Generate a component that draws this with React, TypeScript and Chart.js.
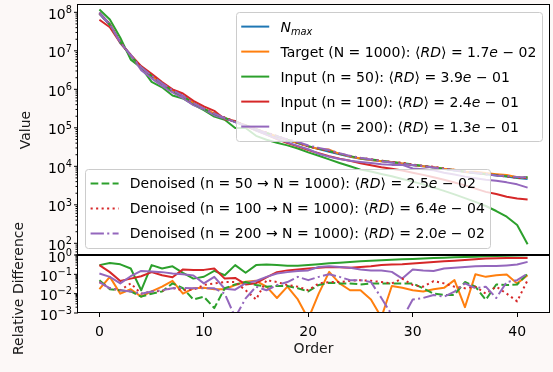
import React, { useEffect, useRef } from "react";
import { Chart, registerables } from "chart.js";

Chart.register(...registerables);

// ---------------- data ----------------
const ORDERS = [
  0, 1, 2, 3, 4, 5, 6, 7, 8, 9, 10, 11, 12, 13, 14, 15, 16, 17, 18, 19, 20,
  21, 22, 23, 24, 25, 26, 27, 28, 29, 30, 31, 32, 33, 34, 35, 36, 37, 38, 39, 40, 41,
];

const N_MAX = [
  9.1e7, 4.7e7, 1.66e7, 7.4e6, 3.7e6, 2.24e6, 1.41e6,
  9.3e5, 6.6e5, 4.3e5, 3.1e5, 2.3e5, 1.78e5, 1.41e5,
  1.12e5, 8.9e4, 7.2e4, 5.9e4, 4.8e4, 4.0e4, 3.3e4,
  2.8e4, 2.4e4, 2.04e4, 1.78e4, 1.58e4, 1.45e4, 1.35e4,
  1.26e4, 1.17e4, 1.07e4, 1.0e4, 9.3e3, 8.5e3, 7.8e3,
  7.1e3, 6.6e3, 6.2e3, 5.75e3, 5.4e3, 5.0e3, 4.7e3,
];
const TARGET = [
  9.25e7, 5.05e7, 1.68e7, 7.5e6, 3.72e6, 2.27e6, 1.44e6,
  9.7e5, 6.55e5, 4.38e5, 3.16e5, 2.34e5, 1.81e5, 1.45e5,
  1.17e5, 9.3e4, 7.36e4, 5.93e4, 4.91e4, 4.02e4, 3.3e4,
  2.83e4, 2.72e4, 2.11e4, 1.81e4, 1.6e4, 1.46e4, 1.35e4,
  1.29e4, 1.19e4, 1.08e4, 1.01e4, 9.45e3, 8.67e3, 8.2e3,
  7.11e3, 7.26e3, 6.66e3, 6.27e3, 5.93e3, 5.17e3, 5.12e3,
];
const INPUT_50 = [
  1.18e8, 6.5e7, 2.2e7, 5.9e6, 3.65e6, 1.57e6, 1.13e6,
  6.9e5, 5.8e5, 4.0e5, 2.87e5, 1.96e5, 1.62e5, 9.9e4,
  9.9e4, 6.2e4, 4.9e4, 4.1e4, 3.5e4, 2.9e4, 2.3e4,
  1.88e4, 1.51e4, 1.22e4, 1.0e4, 8.2e3, 7.3e3, 6.3e3,
  5.5e3, 4.7e3, 4.0e3, 3.4e3, 2.8e3, 2.3e3, 1.87e3,
  1.49e3, 1.19e3, 930, 690, 490, 300, 94,
];
const INPUT_100 = [
  6.4e7, 4.1e7, 1.59e7, 7.8e6, 4.0e6, 2.53e6, 1.54e6,
  1.0e6, 7.8e5, 5.0e5, 3.6e5, 2.76e5, 1.67e5, 1.5e5,
  1.09e5, 8.6e4, 6.7e4, 5.1e4, 4.0e4, 3.3e4, 2.64e4,
  2.18e4, 1.82e4, 1.57e4, 1.39e4, 1.2e4, 1.07e4, 9.5e3,
  8.6e3, 7.8e3, 6.8e3, 6.0e3, 5.2e3, 4.5e3, 3.8e3,
  3.2e3, 2.64e3, 2.17e3, 1.9e3, 1.62e3, 1.45e3, 1.38e3,
];
const INPUT_200 = [
  1.0e8, 5.0e7, 1.6e7, 8.0e6, 3.15e6, 1.93e6, 1.23e6,
  8.3e5, 5.9e5, 3.9e5, 3.0e5, 2.13e5, 1.75e5, 1.43e5,
  1.16e5, 8.5e4, 6.7e4, 5.25e4, 4.2e4, 3.4e4, 2.77e4,
  2.13e4, 1.78e4, 1.55e4, 1.39e4, 1.3e4, 1.22e4, 1.13e4,
  1.09e4, 1.1e4, 8.8e3, 8.4e3, 7.9e3, 6.8e3, 6.1e3,
  5.4e3, 4.9e3, 4.5e3, 4.2e3, 3.83e3, 3.4e3, 2.8e3,
];
const DENOISED_50 = [
  9.55e7, 4.78e7, 1.68e7, 7.3e6, 3.73e6, 2.22e6, 1.43e6,
  9.0e5, 6.72e5, 4.32e5, 3.12e5, 2.3e5, 1.81e5, 1.45e5,
  1.16e5, 9.15e4, 7.37e4, 6.05e4, 4.92e4, 4.08e4, 3.34e4,
  2.88e4, 2.49e4, 2.11e4, 1.84e4, 1.63e4, 1.5e4, 1.4e4,
  1.3e4, 1.21e4, 1.11e4, 1.02e4, 9.4e3, 8.57e3, 7.87e3,
  7.38e3, 6.75e3, 6.23e3, 5.92e3, 5.55e3, 5.15e3, 5.2e3,
];
const DENOISED_100 = [
  9.46e7, 4.79e7, 1.68e7, 7.65e6, 3.74e6, 2.27e6, 1.43e6,
  9.49e5, 6.7e5, 4.37e5, 3.19e5, 2.38e5, 1.85e5, 1.47e5,
  1.14e5, 8.94e4, 7.56e4, 6.14e4, 4.93e4, 4.09e4, 3.35e4,
  2.9e4, 2.5e4, 2.12e4, 1.86e4, 1.66e4, 1.52e4, 1.4e4,
  1.3e4, 1.24e4, 1.1e4, 1.02e4, 9.72e3, 8.79e3, 7.98e3,
  7.23e3, 6.75e3, 6.26e3, 5.88e3, 5.45e3, 5.02e3, 4.94e3,
];
const DENOISED_200 = [
  9.46e7, 4.79e7, 1.69e7, 7.5e6, 3.74e6, 2.27e6, 1.43e6,
  9.48e5, 6.73e5, 4.38e5, 3.16e5, 2.34e5, 1.8e5, 1.41e5,
  1.13e5, 9.1e4, 7.31e4, 6.07e4, 4.99e4, 4.3e4, 3.47e4,
  3.01e4, 2.64e4, 2.19e4, 1.87e4, 1.66e4, 1.51e4, 1.36e4,
  1.26e4, 1.17e4, 1.08e4, 1.01e4, 9.38e3, 8.56e3, 7.9e3,
  7.34e3, 6.73e3, 6.34e3, 5.78e3, 5.62e3, 5.25e3, 5.22e3,
];

// relative differences (bottom panel)
const RD_TARGET = [
  0.017, 0.074, 0.01, 0.017, 0.007, 0.013, 0.023,
  0.046, 0.01, 0.019, 0.02, 0.017, 0.017, 0.028,
  0.041, 0.046, 0.023, 0.006, 0.023, 0.005, 0.0005,
  0.01, 0.134, 0.034, 0.015, 0.015, 0.005, 0.0006,
  0.025, 0.02, 0.015, 0.013, 0.017, 0.02, 0.05,
  0.002, 0.1, 0.074, 0.09, 0.098, 0.034, 0.09,
];
const RD_INPUT_50 = [
  0.3, 0.39, 0.33, 0.2, 0.015, 0.3, 0.2,
  0.26, 0.12, 0.06, 0.075, 0.15, 0.09, 0.3,
  0.12, 0.3, 0.32, 0.3, 0.28, 0.28, 0.3,
  0.33, 0.37, 0.4, 0.44, 0.48, 0.5, 0.53,
  0.56, 0.6, 0.63, 0.66, 0.7, 0.73, 0.76,
  0.79, 0.82, 0.85, 0.88, 0.91, 0.94, 0.98,
];
const RD_INPUT_100 = [
  0.3, 0.13, 0.045, 0.06, 0.08, 0.13, 0.09,
  0.07, 0.18, 0.17, 0.17, 0.2, 0.06, 0.065,
  0.03, 0.035, 0.07, 0.13, 0.16, 0.18, 0.2,
  0.22, 0.24, 0.23, 0.22, 0.24, 0.26, 0.3,
  0.32, 0.33, 0.36, 0.4, 0.44, 0.47, 0.51,
  0.55, 0.6, 0.65, 0.67, 0.7, 0.71, 0.71,
];
const RD_INPUT_200 = [
  0.11, 0.074, 0.034, 0.08, 0.15, 0.14, 0.13,
  0.11, 0.1, 0.087, 0.034, 0.074, 0.018, 0.016,
  0.035, 0.045, 0.074, 0.11, 0.13, 0.15, 0.16,
  0.24, 0.26, 0.24, 0.22, 0.18, 0.16, 0.16,
  0.134, 0.06, 0.18, 0.16, 0.15, 0.2, 0.22,
  0.24, 0.26, 0.27, 0.27, 0.29, 0.32, 0.44,
];
const RD_DENOISED_50 = [
  0.05, 0.017, 0.015, 0.013, 0.007, 0.01, 0.013,
  0.034, 0.019, 0.005, 0.007, 0.0018, 0.019, 0.03,
  0.04, 0.028, 0.023, 0.025, 0.025, 0.019, 0.013,
  0.028, 0.037, 0.034, 0.034, 0.03, 0.034, 0.034,
  0.034, 0.034, 0.034, 0.019, 0.01, 0.0086, 0.0086,
  0.04, 0.023, 0.0048, 0.03, 0.028, 0.03, 0.11,
];
const RD_DENOISED_100 = [
  0.04, 0.019, 0.015, 0.034, 0.01, 0.013, 0.014,
  0.02, 0.015, 0.016, 0.028, 0.034, 0.04, 0.04,
  0.015, 0.005, 0.05, 0.04, 0.028, 0.023, 0.015,
  0.034, 0.04, 0.04, 0.046, 0.05, 0.046, 0.04,
  0.034, 0.06, 0.028, 0.023, 0.045, 0.034, 0.023,
  0.019, 0.023, 0.01, 0.023, 0.01, 0.004, 0.05,
];
const RD_DENOISED_200 = [
  0.04, 0.019, 0.015, 0.013, 0.01, 0.013, 0.015,
  0.019, 0.02, 0.019, 0.019, 0.019, 0.01, 0.0006,
  0.0057, 0.023, 0.015, 0.028, 0.04, 0.074, 0.05,
  0.074, 0.1, 0.074, 0.05, 0.05, 0.04, 0.006,
  0.0008, 0.0005, 0.005, 0.006, 0.0086, 0.007, 0.0127,
  0.034, 0.019, 0.023, 0.006, 0.04, 0.05, 0.11,
];

const LABEL_NMAX = "$N_{max}$";
const LABEL_TARGET = "Target (N = 1000): ⟨$RD$⟩ = 1.7$e$ − 02";
const LABEL_IN50 = "Input (n = 50): ⟨$RD$⟩ = 3.9$e$ − 01";
const LABEL_IN100 = "Input (n = 100): ⟨$RD$⟩ = 2.4$e$ − 01";
const LABEL_IN200 = "Input (n = 200): ⟨$RD$⟩ = 1.3$e$ − 01";
const LABEL_DN50 = "Denoised (n = 50 → N = 1000): ⟨$RD$⟩ = 2.5$e$ − 02";
const LABEL_DN100 = "Denoised (n = 100 → N = 1000): ⟨$RD$⟩ = 6.4$e$ − 04";
const LABEL_DN200 = "Denoised (n = 200 → N = 1000): ⟨$RD$⟩ = 2.0$e$ − 02";

const TOP_TICKS = [1e2, 1e3, 1e4, 1e5, 1e6, 1e7, 1e8];
const TOP_EXPS = ["2", "3", "4", "5", "6", "7", "8"];
const BOT_TICKS = [1e-3, 1e-2, 1e-1, 1];
const BOT_EXPS = ["−3", "−2", "−1", "0"];
const X_TICKS = [0, 10, 20, 30, 40];

const X_MIN = -2.05;
const X_MAX = 43.05;
const TOP_Y_MIN = 49.7;
const TOP_Y_MAX = 1.55e8;
const BOT_Y_MIN = 1e-3;
const BOT_Y_MAX = 1;

// ---------------- styles ----------------
const BG = "#fcf8f7";
const FS = 14;
const FONT = '"DejaVu Sans", sans-serif';
const LW = 2.0;
const BLUE = "#1f77b4";
const ORANGE = "#ff7f0e";
const GREEN = "#2ca02c";
const RED = "#d62728";
const PURPLE = "#9467bd";
const SOLID: number[] = [];
const DASHED = [7.7, 3.3];
const DOTTED = [2.1, 3.4];
const DASHDOT = [13.3, 3.3, 2.1, 3.3];

type Style = { color: string; dash: number[] };
type Seg = { t: string; it?: boolean; sub?: boolean };

function parseLabel(s: string): Seg[] {
  const out: Seg[] = [];
  s.split("$").forEach((part, i) => {
    if (!part) return;
    const it = i % 2 === 1;
    if (it) {
      const m = part.match(/^(.*?)_\{(.*)\}$/);
      if (m) {
        out.push({ t: m[1], it: true });
        out.push({ t: m[2], it: true, sub: true });
        return;
      }
    }
    out.push({ t: part, it });
  });
  return out;
}

function segFont(s: Seg) {
  const size = s.sub ? FS * 0.7 : FS;
  return `${s.it ? "italic " : ""}${size}px ${FONT}`;
}
function measureSegs(ctx: CanvasRenderingContext2D, segs: Seg[]) {
  let w = 0;
  for (const s of segs) {
    ctx.font = segFont(s);
    w += ctx.measureText(s.t).width;
  }
  return w;
}
function drawSegs(ctx: CanvasRenderingContext2D, segs: Seg[], x: number, baseline: number) {
  ctx.textAlign = "left";
  ctx.textBaseline = "alphabetic";
  ctx.fillStyle = "#000";
  for (const s of segs) {
    ctx.font = segFont(s);
    ctx.fillText(s.t, x, baseline + (s.sub ? FS * 0.22 : 0));
    x += ctx.measureText(s.t).width;
  }
}

type Entry = { segs: Seg[]; style: Style };

function drawLegend(chart: any, entries: Entry[], anchor: "ur" | "ll") {
  const ctx: CanvasRenderingContext2D = chart.ctx;
  const a = chart.chartArea;
  const pad = 0.4 * FS;
  const handle = 2 * FS;
  const htp = 0.8 * FS;
  const rowH = 18;
  const spacing = 0.5 * FS;
  const inset = 0.5 * FS;
  ctx.save();
  const maxW = Math.max(...entries.map((e) => measureSegs(ctx, e.segs)));
  const w = pad + handle + htp + maxW + pad;
  const h = 2 * pad + entries.length * rowH + (entries.length - 1) * spacing;
  let x: number, y: number;
  if (anchor === "ur") {
    x = a.right - inset - w;
    y = a.top + inset;
  } else {
    x = a.left + inset;
    y = a.bottom - inset - h;
  }
  const rx = Math.round(x) + 0.5;
  const ry = Math.round(y) + 0.5;
  ctx.beginPath();
  (ctx as any).roundRect(rx, ry, Math.round(w), Math.round(h), 3);
  ctx.fillStyle = "rgba(255,255,255,0.8)";
  ctx.fill();
  ctx.strokeStyle = "#cccccc";
  ctx.lineWidth = 1;
  ctx.stroke();
  entries.forEach((e, k) => {
    const cy = y + pad + rowH / 2 + k * (rowH + spacing);
    ctx.beginPath();
    ctx.setLineDash(e.style.dash);
    ctx.strokeStyle = e.style.color;
    ctx.lineWidth = LW;
    ctx.lineCap = "butt";
    ctx.moveTo(x + pad, cy);
    ctx.lineTo(x + pad + handle, cy);
    ctx.stroke();
    ctx.setLineDash([]);
    drawSegs(ctx, e.segs, x + pad + handle + htp, cy + 5);
  });
  ctx.restore();
}

function drawLogYAxis(chart: any, ticks: number[], exps: string[]) {
  const ctx: CanvasRenderingContext2D = chart.ctx;
  const a = chart.chartArea;
  const s = chart.scales.y;
  ctx.save();
  ctx.strokeStyle = "#000";
  ctx.lineWidth = 1;
  const lo = Math.floor(Math.log10(s.min));
  const hi = Math.ceil(Math.log10(s.max));
  for (let d = lo; d <= hi; d++) {
    for (let k = 1; k <= 9; k++) {
      const v = k * Math.pow(10, d);
      if (v < s.min * 0.9999 || v > s.max * 1.0001) continue;
      const py = s.getPixelForValue(v);
      const len = k === 1 ? 4 : 2.5;
      ctx.beginPath();
      ctx.moveTo(a.left - len, py);
      ctx.lineTo(a.left, py);
      ctx.stroke();
    }
  }
  ctx.fillStyle = "#000";
  ctx.textAlign = "left";
  ctx.textBaseline = "alphabetic";
  ticks.forEach((v, i) => {
    const py = s.getPixelForValue(v);
    ctx.font = `${FS * 0.7}px ${FONT}`;
    const ew = ctx.measureText(exps[i]).width;
    ctx.font = `${FS}px ${FONT}`;
    const bw = ctx.measureText("10").width;
    const right = a.left - 6;
    ctx.fillText("10", right - ew - bw, py + 6.5);
    ctx.font = `${FS * 0.7}px ${FONT}`;
    ctx.fillText(exps[i], right - ew, py + 0.8);
  });
  ctx.restore();
}

function fillArea(chart: any) {
  const ctx: CanvasRenderingContext2D = chart.ctx;
  const a = chart.chartArea;
  ctx.save();
  ctx.fillStyle = "#ffffff";
  ctx.fillRect(a.left, a.top, a.right - a.left, a.bottom - a.top);
  ctx.restore();
}

function drawSpines(chart: any, topWidth: number) {
  const ctx: CanvasRenderingContext2D = chart.ctx;
  const a = chart.chartArea;
  ctx.save();
  ctx.strokeStyle = "#000";
  ctx.lineWidth = 1;
  ctx.beginPath();
  ctx.moveTo(a.left - 0.5, a.top);
  ctx.lineTo(a.left - 0.5, a.bottom);
  ctx.moveTo(a.right + 0.5, a.top);
  ctx.lineTo(a.right + 0.5, a.bottom);
  ctx.moveTo(a.left - 1, a.bottom - 0.5);
  ctx.lineTo(a.right + 1, a.bottom - 0.5);
  ctx.stroke();
  ctx.lineWidth = topWidth;
  ctx.beginPath();
  ctx.moveTo(a.left - 1, a.top - (topWidth === 2 ? 0 : 0.5));
  ctx.lineTo(a.right + 1, a.top - (topWidth === 2 ? 0 : 0.5));
  ctx.stroke();
  ctx.restore();
}

function dataset(values: number[], style: Style, idx: number, n: number) {
  return {
    data: ORDERS.map((x, i) => ({ x, y: values[i] })),
    borderColor: style.color,
    backgroundColor: style.color,
    borderWidth: LW,
    borderDash: style.dash,
    borderJoinStyle: "round",
    borderCapStyle: "butt",
    pointRadius: 0,
    fill: false,
    tension: 0,
    clip: 0,
    order: n - idx,
  };
}

const S_NMAX: Style = { color: BLUE, dash: SOLID };
const S_TARGET: Style = { color: ORANGE, dash: SOLID };
const S_IN50: Style = { color: GREEN, dash: SOLID };
const S_IN100: Style = { color: RED, dash: SOLID };
const S_IN200: Style = { color: PURPLE, dash: SOLID };
const S_DN50: Style = { color: GREEN, dash: DASHED };
const S_DN100: Style = { color: RED, dash: DOTTED };
const S_DN200: Style = { color: PURPLE, dash: DASHDOT };

export default function App() {
  const topRef = useRef<HTMLCanvasElement>(null);
  const botRef = useRef<HTMLCanvasElement>(null);

  useEffect(() => {
    document.body.style.margin = "0";
    const topSeries: [number[], Style][] = [
      [N_MAX, S_NMAX],
      [TARGET, S_TARGET],
      [INPUT_50, S_IN50],
      [INPUT_100, S_IN100],
      [INPUT_200, S_IN200],
      [DENOISED_50, S_DN50],
      [DENOISED_100, S_DN100],
      [DENOISED_200, S_DN200],
    ];
    const botSeries: [number[], Style][] = [
      [RD_TARGET, S_TARGET],
      [RD_INPUT_50, S_IN50],
      [RD_INPUT_100, S_IN100],
      [RD_INPUT_200, S_IN200],
      [RD_DENOISED_50, S_DN50],
      [RD_DENOISED_100, S_DN100],
      [RD_DENOISED_200, S_DN200],
    ];
    const legend1: Entry[] = [
      { segs: parseLabel(LABEL_NMAX), style: S_NMAX },
      { segs: parseLabel(LABEL_TARGET), style: S_TARGET },
      { segs: parseLabel(LABEL_IN50), style: S_IN50 },
      { segs: parseLabel(LABEL_IN100), style: S_IN100 },
      { segs: parseLabel(LABEL_IN200), style: S_IN200 },
    ];
    const legend2: Entry[] = [
      { segs: parseLabel(LABEL_DN50), style: S_DN50 },
      { segs: parseLabel(LABEL_DN100), style: S_DN100 },
      { segs: parseLabel(LABEL_DN200), style: S_DN200 },
    ];
    const titleFont = { family: FONT, size: FS };

    const topChart = new Chart(topRef.current as HTMLCanvasElement, {
      type: "line",
      data: {
        datasets: topSeries.map(([v, st], i) => dataset(v, st, i, topSeries.length)) as any,
      },
      options: {
        responsive: false,
        animation: false,
        devicePixelRatio: 1,
        events: [],
        layout: { padding: { left: 0, top: 5, right: 4, bottom: 1 } },
        plugins: { legend: { display: false }, tooltip: { enabled: false } },
        scales: {
          x: { type: "linear", min: X_MIN, max: X_MAX, display: false },
          y: {
            type: "logarithmic",
            min: TOP_Y_MIN,
            max: TOP_Y_MAX,
            position: "left",
            afterFit: (s: any) => {
              s.width = 78;
            },
            ticks: { display: false },
            grid: { display: false },
            border: { display: false },
            title: {
              display: true,
              text: "Value",
              color: "#1a1a1a",
              font: titleFont,
              padding: { top: 18, bottom: 0 },
            },
          },
        },
      } as any,
      plugins: [
        {
          id: "topDecor",
          beforeDatasetsDraw: (c: any) => fillArea(c),
          afterDraw: (c: any) => {
            drawSpines(c, 1);
            drawLogYAxis(c, TOP_TICKS, TOP_EXPS);
            drawLegend(c, legend1, "ur");
            drawLegend(c, legend2, "ll");
          },
        },
      ],
    });

    const botChart = new Chart(botRef.current as HTMLCanvasElement, {
      type: "line",
      data: {
        datasets: botSeries.map(([v, st], i) => dataset(v, st, i, botSeries.length)) as any,
      },
      options: {
        responsive: false,
        animation: false,
        devicePixelRatio: 1,
        events: [],
        layout: { padding: { left: 0, top: 55, right: 4, bottom: 0 } },
        plugins: { legend: { display: false }, tooltip: { enabled: false } },
        scales: {
          x: {
            type: "linear",
            min: X_MIN,
            max: X_MAX,
            afterBuildTicks: (s: any) => {
              s.ticks = X_TICKS.map((v) => ({ value: v }));
            },
            afterFit: (s: any) => {
              s.height = 59;
            },
            ticks: {
              color: "#000",
              font: titleFont,
              padding: 7,
              maxRotation: 0,
              autoSkip: false,
            },
            grid: {
              drawOnChartArea: false,
              drawTicks: true,
              tickLength: 4,
              color: "#000",
              lineWidth: 1,
            },
            border: { display: false },
            title: {
              display: true,
              text: "Order",
              color: "#1a1a1a",
              font: titleFont,
              padding: { top: 0, bottom: 14.5 },
            },
          },
          y: {
            type: "logarithmic",
            min: BOT_Y_MIN,
            max: BOT_Y_MAX,
            position: "left",
            afterFit: (s: any) => {
              s.width = 78;
            },
            ticks: { display: false },
            grid: { display: false },
            border: { display: false },
            title: {
              display: true,
              text: "Relative Difference  ",
              color: "#1a1a1a",
              font: titleFont,
              padding: { top: 10.6, bottom: 0 },
            },
          },
        },
      } as any,
      plugins: [
        {
          id: "botDecor",
          beforeDatasetsDraw: (c: any) => fillArea(c),
          afterDraw: (c: any) => {
            drawSpines(c, 2);
            drawLogYAxis(c, BOT_TICKS, BOT_EXPS);
          },
        },
      ],
    });

    return () => {
      topChart.destroy();
      botChart.destroy();
    };
  }, []);

  return (
    <div
      style={{
        position: "fixed",
        left: 0,
        top: 0,
        width: 553,
        height: 372,
        background: BG,
        overflow: "hidden",
      }}
    >
      <canvas
        ref={topRef}
        width={553}
        height={256}
        style={{ position: "absolute", left: 0, top: 0, width: 553, height: 256 }}
      />
      <canvas
        ref={botRef}
        width={553}
        height={172}
        style={{ position: "absolute", left: 0, top: 200, width: 553, height: 172 }}
      />
    </div>
  );
}
